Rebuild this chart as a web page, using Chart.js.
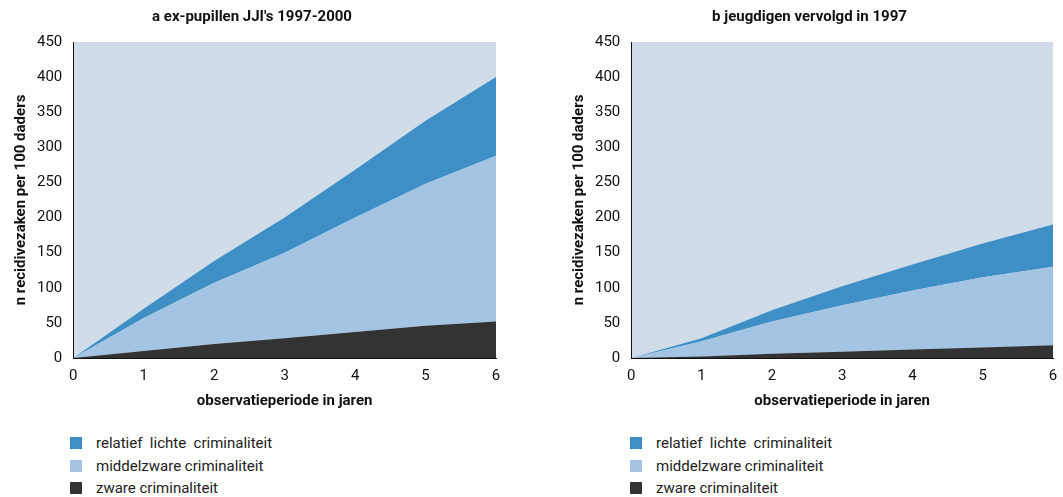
<!DOCTYPE html>
<html><head><meta charset="utf-8">
<script src="https://cdn.jsdelivr.net/npm/chart.js@4"></script>
<style>
body{margin:0;background:#fff;font-family:Roboto,sans-serif;}
.c{position:absolute;top:0;height:414px;}
.leg{position:absolute;top:432px;font-size:15px;color:#222;line-height:22.5px}
.leg span{display:inline-block;width:12px;height:12px;margin-right:14px;vertical-align:-1px}
</style></head><body>
<div class="c" style="left:4px;width:508px"><canvas id="a"></canvas></div>
<div class="c" style="left:562px;width:499px"><canvas id="b"></canvas></div>
<div class="leg" style="left:70px"><div><span style="background:#3d8fc6"></span>relatief&nbsp; lichte&nbsp; criminaliteit</div><div><span style="background:#a3c4e3"></span>middelzware criminaliteit</div><div><span style="background:#333"></span>zware criminaliteit</div></div>
<div class="leg" style="left:630px"><div><span style="background:#3d8fc6"></span>relatief&nbsp; lichte&nbsp; criminaliteit</div><div><span style="background:#a3c4e3"></span>middelzware criminaliteit</div><div><span style="background:#333"></span>zware criminaliteit</div></div>
<script>
const years=[0,1,2,3,4,5,6];
const aZware=[0,10,20,28,37,46,52];
const aMiddelTotal=[0,57,107,150,200,248,288];
const aLichtTotal=[0,70,138,200,268,338,400];
const bZware=[0,2,6,9,12,15,18];
const bMiddelTotal=[0,24,52,75,96,115,130];
const bLichtTotal=[0,28,68,102,133,163,190];
const yTicks=[0,50,100,150,200,250,300,350,400,450];
const bg={id:'bg',beforeDraw(c){const a=c.chartArea,x=c.ctx;x.save();x.fillStyle='#d0dde8';x.fillRect(a.left,a.top,a.right-a.left,a.bottom-a.top);x.restore();}};
function make(id,title,z,m,l,padR){
 const pts=arr=>arr.map((v,i)=>({x:years[i],y:v}));
 new Chart(document.getElementById(id),{type:'line',
 data:{datasets:[
  {data:pts(z),fill:'origin',backgroundColor:'#333333',borderWidth:0,pointRadius:0},
  {data:pts(m),fill:'-1',backgroundColor:'#a3c4e3',borderWidth:0,pointRadius:0},
  {data:pts(l),fill:'-1',backgroundColor:'#3d8fc6',borderWidth:0,pointRadius:0}]},
 options:{responsive:true,maintainAspectRatio:false,animation:false,
  layout:{padding:{right:padR,top:2,left:4}},
  plugins:{legend:{display:false},tooltip:{enabled:false},
   title:{display:true,text:title,color:'#111',font:{family:'Roboto',size:15,weight:'bold'},padding:{top:6,bottom:16}}},
  scales:{
   x:{type:'linear',min:0,max:6,ticks:{stepSize:1,color:'#111',font:{family:'Roboto',size:15}},
      grid:{display:false,drawTicks:true,tickColor:'#111',tickLength:6},border:{color:'#111'},
      title:{display:true,text:'observatieperiode in jaren',color:'#111',font:{family:'Roboto',size:15,weight:'bold'}}},
   y:{min:0,max:450,afterBuildTicks:s=>{s.ticks=yTicks.map(v=>({value:v}));},
      ticks:{color:'#111',font:{family:'Roboto',size:15}},
      grid:{display:false},border:{color:'#111'},
      title:{display:true,text:'n recidivezaken per 100 daders',color:'#111',font:{family:'Roboto',size:15,weight:'bold'}}}}},
 plugins:[bg]});
}
make('a',"a ex-pupillen JJI's 1997-2000",aZware,aMiddelTotal,aLichtTotal,16);
make('b','b jeugdigen vervolgd in 1997',bZware,bMiddelTotal,bLichtTotal,8);
</script></body></html>
